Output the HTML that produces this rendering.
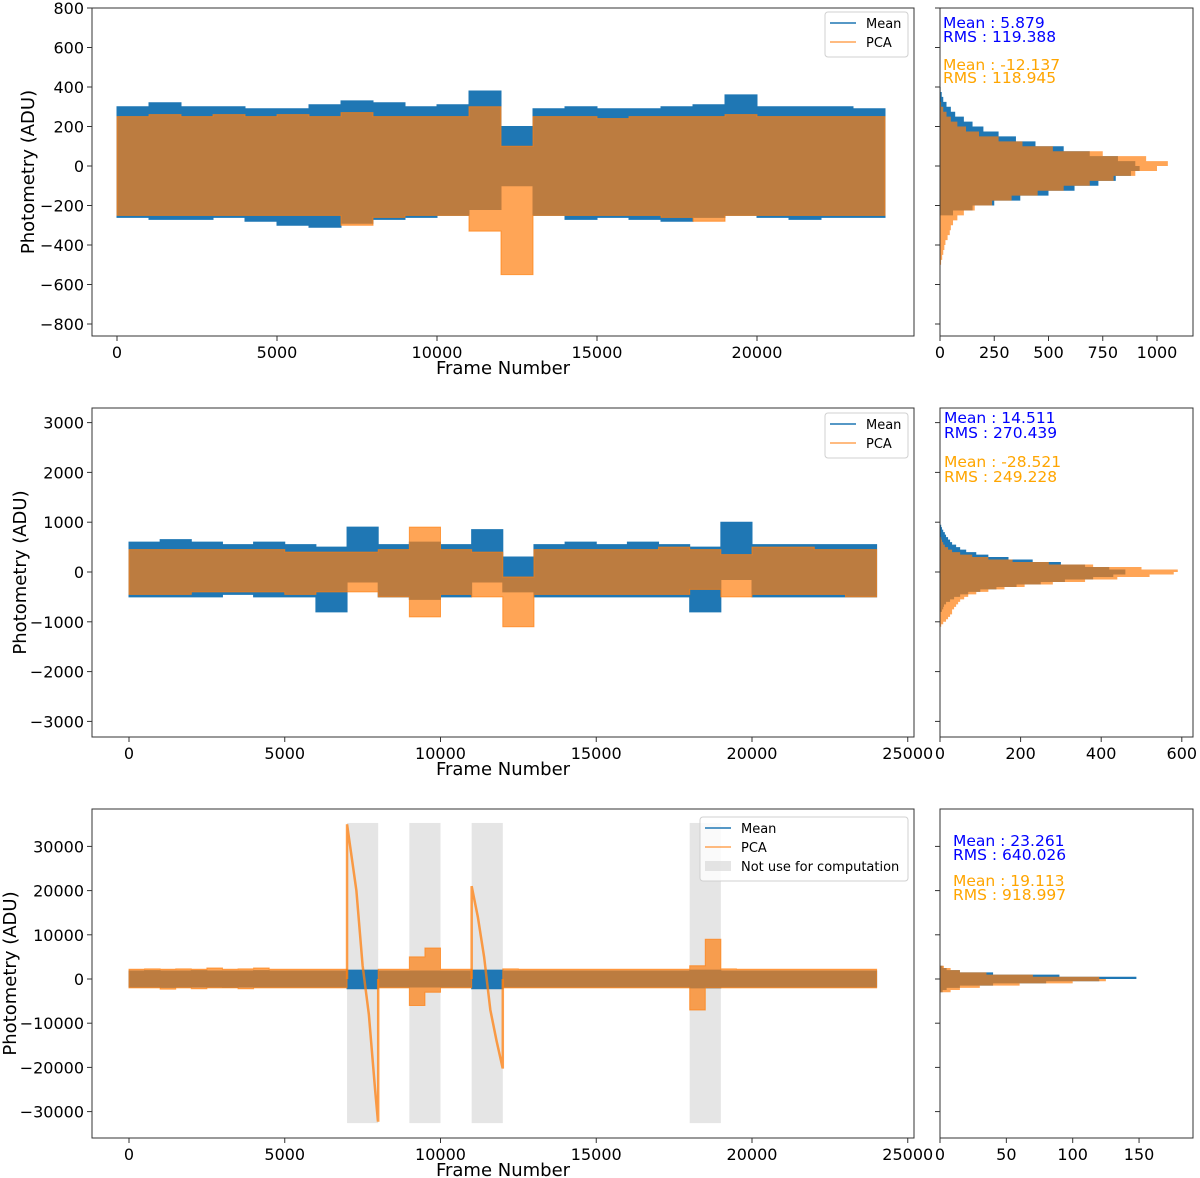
<!DOCTYPE html>
<html><head><meta charset="utf-8"><style>
body{margin:0;background:#fff}
svg{display:block;font-family:"DejaVu Sans","Liberation Sans",sans-serif}
</style></head><body>
<svg id="fig" width="1200" height="1178" viewBox="0 0 1200 1178"></svg>
<script>
// ---------- DATA ----------
// Panel 1 (bins of 1000 frames)
const p1MeanHi=[300,320,300,300,290,290,310,330,320,300,310,380,200,290,300,290,290,300,310,360,300,300,300,290];
const p1MeanLo=[-260,-270,-270,-260,-280,-300,-310,-290,-270,-260,-250,-220,-100,-250,-270,-260,-270,-280,-260,-250,-260,-270,-260,-260];
const p1PcaHi=[250,260,250,260,250,260,250,270,250,250,250,300,100,250,250,240,250,250,250,260,250,250,250,250];
const p1PcaLo=[-250,-250,-250,-250,-250,-250,-250,-300,-260,-250,-250,-330,-550,-250,-250,-250,-250,-260,-280,-250,-250,-250,-250,-250];
// Panel 2 (bins of 1000 frames)
const p2MeanHi=[600,650,600,550,600,550,500,900,550,600,550,850,300,550,600,550,600,550,500,1000,550,550,550,550];
const p2MeanLo=[-500,-500,-500,-450,-500,-500,-800,-200,-500,-550,-500,-200,-400,-500,-500,-500,-500,-500,-800,-150,-500,-500,-500,-500];
const p2PcaHi=[450,450,450,450,450,400,400,400,450,900,450,400,-100,450,450,450,450,500,450,350,500,500,450,450];
const p2PcaLo=[-450,-450,-400,-400,-400,-450,-400,-400,-500,-900,-450,-500,-1100,-450,-450,-450,-450,-450,-350,-500,-450,-450,-450,-500];
// Panel 3 (bins of 500 frames; null = no noise band)
const p3MeanHi=[1800,1900,1800,1800,1900,1800,1800,1800,1900,1800,1800,1800,1800,1800,2000,2000,1800,1800,1800,1800,1800,1800,2000,2000,1800,1800,1800,1800,1800,1800,1800,1800,1800,1800,1800,1800,2000,2000,1800,1800,1800,1800,1800,1800,1800,1800,1800,1800];
const p3MeanLo=[-1800,-1800,-1900,-1800,-1800,-1800,-1900,-1800,-1800,-1800,-1800,-1800,-1800,-1800,-2200,-2200,-1800,-1800,-1800,-1800,-1800,-1800,-2200,-2200,-1800,-1800,-1800,-1800,-1800,-1800,-1800,-1800,-1800,-1800,-1800,-1800,-2000,-2000,-1800,-1800,-1800,-1800,-1800,-1800,-1800,-1800,-1800,-1800];
const p3PcaHi=[2200,2300,2200,2300,2200,2500,2200,2300,2500,2200,2200,2200,2200,2200,null,null,2200,2200,5000,7000,2200,2200,null,null,2300,2200,2200,2200,2200,2200,2200,2200,2200,2200,2200,2200,3000,9000,2300,2200,2200,2200,2200,2200,2200,2200,2200,2200];
const p3PcaLo=[-2000,-2000,-2300,-2000,-2200,-2000,-2000,-2200,-2000,-2000,-2000,-2000,-2000,-2000,null,null,-2000,-2000,-6000,-3000,-2000,-2000,null,null,-2000,-2000,-2000,-2000,-2000,-2000,-2000,-2000,-2000,-2000,-2000,-2000,-7000,-2000,-2000,-2000,-2000,-2000,-2000,-2000,-2000,-2000,-2000,-2000];
const ramp1X=[7000,7000,7100,7300,7500,7700,7900,7990,8000,8000];
const ramp1Y=[0,35000,30000,20000,3000,-8000,-25000,-32000,-32000,0];
const ramp2X=[11000,11000,11200,11400,11600,11800,11990,12000,12000];
const ramp2Y=[0,21000,14000,5000,-7000,-14000,-20000,-20000,0];
const excludeStart=[7000,9000,11000,18000];
const excludeEnd=[8000,10000,12000,19000];
// Histograms
const h1Start=-500, h1Width=25;
const h1Mean=[0,0,0,0,0,0,0,0,0,0,60,150,250,370,500,620,730,810,880,920,900,820,690,570,440,350,270,200,150,110,70,50,30,15,8,3];
const h1Pca=[5,10,15,20,25,35,45,50,60,80,110,160,240,330,450,570,690,800,900,1000,1050,950,750,520,380,270,180,120,80,50,30,15,5,0,0,0];
const h2Start=-1100, h2Width=50;
const h2Mean=[0,0,0,0,0,0,5,8,10,15,25,35,50,70,100,140,190,250,310,380,430,460,460,420,360,300,230,170,120,90,65,50,40,30,25,20,15,12,8,5,3,1];
const h2Pca=[3,8,15,20,25,30,30,35,40,45,50,60,70,90,120,160,210,280,360,440,520,580,590,500,380,270,180,120,80,50,30,20,12,8,5,3,0,0,0,0,0,0];
const h3Start=-3000, h3Width=500;
const h3Mean=[2,5,15,40,80,120,148,90,40,15,5,2];
const h3Pca=[8,15,30,60,100,125,120,70,35,15,8,3];
// Ticks
const p1YTicks=[800,600,400,200,0,-200,-400,-600,-800];
const p1XTicks=[0,5000,10000,15000,20000];
const p1HTicks=[0,250,500,750,1000];
const p2YTicks=[3000,2000,1000,0,-1000,-2000,-3000];
const p2XTicks=[0,5000,10000,15000,20000,25000];
const p2HTicks=[0,200,400,600];
const p3YTicks=[30000,20000,10000,0,-10000,-20000,-30000];
const p3XTicks=[0,5000,10000,15000,20000,25000];
const p3HTicks=[0,50,100,150];
const p1Stats=["Mean : 5.879","RMS : 119.388","Mean : -12.137","RMS : 118.945"];
const p2Stats=["Mean : 14.511","RMS : 270.439","Mean : -28.521","RMS : 249.228"];
const p3Stats=["Mean : 23.261","RMS : 640.026","Mean : 19.113","RMS : 918.997"];

// ---------- DRAW ----------
const NS="http://www.w3.org/2000/svg";
const svg=document.getElementById('fig');
const BLUE="#1f77b4", ORANGE="#ff7f0e";
function el(tag,attrs,parent){const e=document.createElementNS(NS,tag);for(const k in attrs)e.setAttribute(k,attrs[k]);(parent||svg).appendChild(e);return e;}
function txt(s,attrs,parent){const e=el('text',attrs,parent);e.textContent=s;return e;}
function fmt(v){return v<0?'\u2212'+Math.abs(v):String(v);}

function band(g,hi,lo,binW,xs,ys,color,op,name){
  let seg=[];
  const flush=()=>{if(!seg.length)return;let top=[],bot=[];
    seg.forEach(i=>{const x0=xs(i*binW),x1=xs((i+1)*binW);top.push(x0+','+ys(hi[i]),x1+','+ys(hi[i]));bot.unshift(x1+','+ys(lo[i]),x0+','+ys(lo[i]));});
    const p=el('polygon',{points:top.concat(bot).join(' '),fill:color,'fill-opacity':op,stroke:color,'stroke-opacity':op,'stroke-width':1},g);
    
    
    seg=[];};
  for(let i=0;i<hi.length;i++){if(hi[i]===null){flush();}else seg.push(i);}
  flush();
}
function hist(g,counts,start,w,ys,xh,color,op,name){
  let pts=[xh(0)+','+ys(start)];
  counts.forEach((c,i)=>{pts.push(xh(c)+','+ys(start+i*w),xh(c)+','+ys(start+(i+1)*w));});
  pts.push(xh(0)+','+ys(start+counts.length*w));
  const p=el('polygon',{points:pts.join(' '),fill:color,'fill-opacity':op},g);
  
  
}
function legend(g,x,y,w,items){
  const h=items.length*19+7;
  const r=el('rect',{x:x,y:y,width:w,height:h,rx:3,fill:'#fff','fill-opacity':0.8,stroke:'#d0d0d0'},g);
  
  
  items.forEach((it,i)=>{const cy=y+11+i*19;
    const eg=el('g',{},g);
    
    
    if(it.patch)el('rect',{x:x+5,y:cy-5,width:26,height:10,fill:'#d3d3d3','fill-opacity':0.6},eg);
    else el('line',{x1:x+5,x2:x+31,y1:cy,y2:cy,stroke:it.color,'stroke-width':1.5,'stroke-opacity':it.op},eg);
    txt(it.label,{x:x+41,y:cy+5,'font-size':13,fill:'#000'},eg);});
}

function panel(c){
  const g=el('g',{});
  
  
  const xs=f=>c.x0+f*c.xk, ys=v=>c.y0-v*c.yk, xh=n=>c.hx0+n*c.hk;
  const clipId='clip'+c.id;
  const cp=el('clipPath',{id:clipId},g);el('rect',{x:c.L,y:c.T,width:c.R-c.L,height:c.B-c.T},cp);
  const plot=el('g',{'clip-path':'url(#'+clipId+')'},g);
  
  
  if(c.excl){c.excl[0].forEach((s,i)=>{const r=el('rect',{x:xs(s),y:ys(35300),width:xs(c.excl[1][i])-xs(s),height:ys(-32600)-ys(35300),fill:'#d3d3d3','fill-opacity':0.6},plot);
    
    });}
  band(plot,c.mHi,c.mLo,c.binW,xs,ys,BLUE,1,'mean-series');
  band(plot,c.pHi,c.pLo,c.binW,xs,ys,ORANGE,0.7,'pca-series');
  if(c.ramps)c.ramps.forEach(rr=>{const pts=rr[0].map((f,i)=>xs(f)+','+ys(rr[1][i])).join(' ');
    const l=el('polyline',{points:pts,fill:'none',stroke:ORANGE,'stroke-opacity':0.75,'stroke-width':2.5},plot);
    
    });
  // main axes frame
  el('rect',{x:c.L,y:c.T,width:c.R-c.L,height:c.B-c.T,fill:'none',stroke:'#333','stroke-width':1},g);
  c.yt.forEach(v=>{const y=ys(v);el('line',{x1:c.L-5,x2:c.L,y1:y,y2:y,stroke:'#333'},g);
    const t=txt(fmt(v),{x:c.L-8,y:y+6,'font-size':16,'text-anchor':'end'},g);
    
    
    el('line',{x1:c.HL-5,x2:c.HL,y1:y,y2:y,stroke:'#333'},g);});
  c.xt.forEach(v=>{const x=xs(v);el('line',{x1:x,x2:x,y1:c.B,y2:c.B+5,stroke:'#333'},g);
    const t=txt(String(v),{x:x,y:c.B+22,'font-size':16,'text-anchor':'middle'},g);
    
    });
  const xl=txt('Frame Number',{x:503,y:c.B+38,'font-size':18,'text-anchor':'middle'},g);
  
  
  const yl=txt('Photometry (ADU)',{x:0,y:0,'font-size':18,'text-anchor':'middle',transform:'translate('+c.ylx+','+((c.T+c.B)/2)+') rotate(-90)'},g);
  
  
  legend(g,c.leg[0],c.leg[1],c.leg[2],c.legItems);
  // histogram
  const hg=el('g',{},g);
  
  
  const hcid='hclip'+c.id;
  const hcp=el('clipPath',{id:hcid},hg);el('rect',{x:c.HL,y:c.T,width:c.HR-c.HL,height:c.B-c.T},hcp);
  const hp=el('g',{'clip-path':'url(#'+hcid+')'},hg);
  hist(hp,c.hM,c.hS,c.hW,ys,xh,BLUE,1,'mean-histogram');
  hist(hp,c.hP,c.hS,c.hW,ys,xh,ORANGE,0.7,'pca-histogram');
  el('rect',{x:c.HL,y:c.T,width:c.HR-c.HL,height:c.B-c.T,fill:'none',stroke:'#333'},hg);
  c.ht.forEach(v=>{const x=xh(v);el('line',{x1:x,x2:x,y1:c.B,y2:c.B+5,stroke:'#333'},hg);
    const t=txt(String(v),{x:x,y:c.B+22,'font-size':16,'text-anchor':'middle'},hg);
    
    });
  c.stats.forEach((s,i)=>{const t=txt(s,{x:c.sx,y:c.sy[i],'font-size':15.5,fill:i<2?'#0000ff':'#ffa500'},hg);
    
    });
}
const legStd=[{key:'mean',label:'Mean',color:BLUE,op:1},{key:'pca',label:'PCA',color:ORANGE,op:0.7}];
panel({id:1,L:92,R:914,T:8,B:336,x0:117,xk:0.032,y0:166,yk:0.1975,binW:1000,
  mHi:p1MeanHi,mLo:p1MeanLo,pHi:p1PcaHi,pLo:p1PcaLo,yt:p1YTicks,xt:p1XTicks,ylx:34,
  HL:940,HR:1193,hx0:940,hk:0.217,hM:h1Mean,hP:h1Pca,hS:h1Start,hW:h1Width,ht:p1HTicks,
  leg:[825,12,83],legItems:legStd,stats:p1Stats,sx:943,sy:[28,42,70,83]});
panel({id:2,L:92,R:914,T:408,B:737,x0:129,xk:0.03115,y0:572,yk:0.0498,binW:1000,
  mHi:p2MeanHi,mLo:p2MeanLo,pHi:p2PcaHi,pLo:p2PcaLo,yt:p2YTicks,xt:p2XTicks,ylx:26,
  HL:940,HR:1193,hx0:940,hk:0.403,hM:h2Mean,hP:h2Pca,hS:h2Start,hW:h2Width,ht:p2HTicks,
  leg:[825,413,83],legItems:legStd,stats:p2Stats,sx:944,sy:[423,438,467,482]});
panel({id:3,L:92,R:914,T:809,B:1138,x0:129,xk:0.03115,y0:979,yk:0.00442,binW:500,
  mHi:p3MeanHi,mLo:p3MeanLo,pHi:p3PcaHi,pLo:p3PcaLo,yt:p3YTicks,xt:p3XTicks,ylx:16,
  ramps:[[ramp1X,ramp1Y],[ramp2X,ramp2Y]],excl:[excludeStart,excludeEnd],
  HL:940,HR:1193,hx0:940,hk:1.327,hM:h3Mean,hP:h3Pca,hS:h3Start,hW:h3Width,ht:p3HTicks,
  leg:[700,817,208],legItems:legStd.concat([{key:'excluded',label:'Not use for computation',patch:true}]),
  stats:p3Stats,sx:953,sy:[846,860,886,900]});
</script>
</body></html>
